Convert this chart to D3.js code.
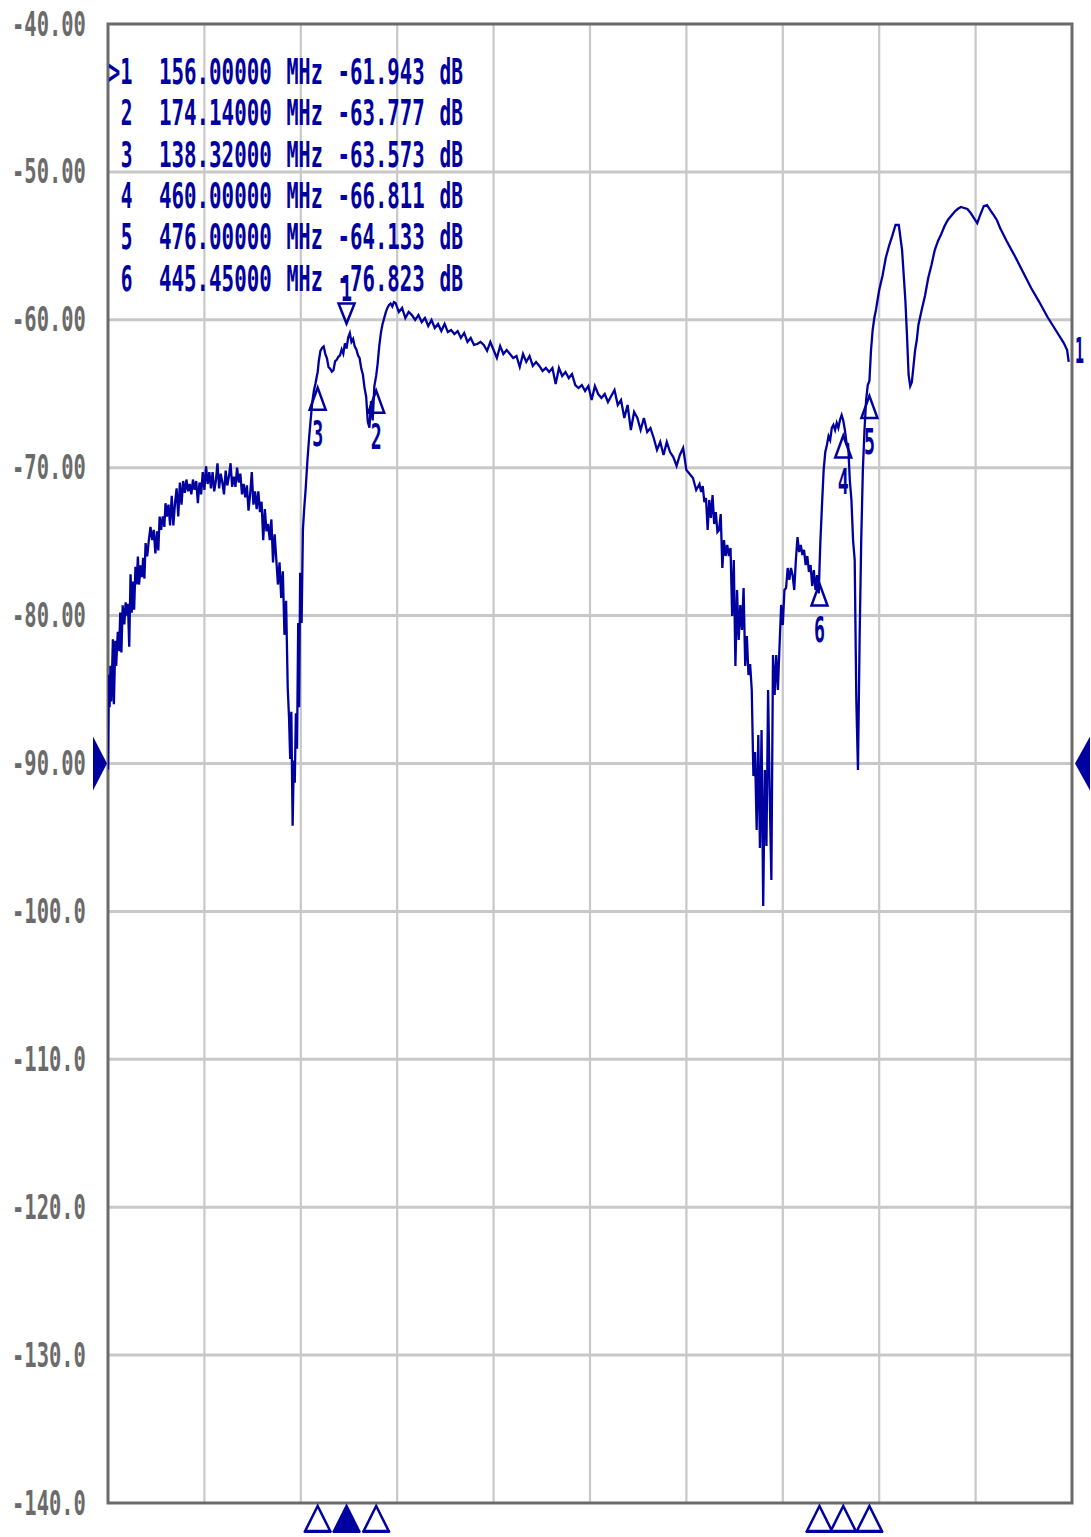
<!DOCTYPE html>
<html><head><meta charset="utf-8">
<script src="https://cdn.jsdelivr.net/npm/d3@7"></script>
<style>body{margin:0;background:#fff}svg{display:block}</style>
</head><body>
<svg id="c" width="1091" height="1537"></svg>
<script>
// ---------- data ----------
const freqStart = 10, freqStop = 600;          // MHz, sweep span
const xDivisions = 10;
const yTickValues = [-40,-50,-60,-70,-80,-90,-100,-110,-120,-130,-140];
const yTickLabels = ["-40.00","-50.00","-60.00","-70.00","-80.00","-90.00","-100.0","-110.0","-120.0","-130.0","-140.0"];
const referenceLevel = -90;
const activeMarker = 1;
const markerIds    = [1, 2, 3, 4, 5, 6];
const markerFreqs  = [156.0, 174.14, 138.32, 460.0, 476.0, 445.45];
const markerValues = [-61.943, -63.777, -63.573, -66.811, -64.133, -76.823];
const traceNumber = "1";

// trace: [frequency MHz, dB]
const trace = [
[10,-90.4],[10.5,-84.0],[11,-86.2],[11.5,-83.4],[12,-85.8],[13,-81.6],[13.6,-86.0],[14.5,-81.7],[15,-83.4],[16,-81.1],[16.8,-82.4],[17.5,-79.8],[18.2,-82.5],[19,-79.3],[20,-80.6],[20.8,-79.1],[21.5,-80.0],[22.2,-79.2],[23,-82.1],[23.8,-77.2],[24.5,-79.8],[25.2,-77.7],[26,-79.6],[26.8,-76.7],[27.5,-77.9],[28.3,-76.0],[29,-77.9],[30,-76.6],[30.8,-77.4],[31.5,-76.1],[32.3,-77.5],[33,-75.1],[34,-76.0],[35,-74.9],[36,-74.0],[37,-74.9],[38,-74.2],[39,-75.8],[40,-74.3],[40.8,-75.6],[41.6,-73.3],[42.5,-74.2],[43.5,-73.3],[44.5,-74.0],[45.2,-72.4],[46,-73.3],[47,-72.5],[48,-73.9],[49,-71.9],[50,-73.9],[51,-72.4],[52,-71.4],[53,-73.3],[54,-71.0],[55,-72.5],[56,-70.9],[57,-71.7],[58,-70.8],[59,-71.6],[60,-71.1],[61,-71.8],[62,-70.8],[63,-71.5],[64,-70.9],[65,-72.4],[66,-71.0],[67,-71.8],[68,-70.3],[69,-71.5],[70,-69.9],[71,-71.1],[72,-70.3],[73,-71.4],[74,-70.3],[75,-71.6],[76,-70.9],[77,-69.7],[78,-71.4],[79,-70.4],[80,-71.0],[81,-71.8],[82,-70.2],[83,-71.2],[84,-70.6],[85,-69.7],[86,-71.3],[87,-70.6],[88,-71.3],[89,-70.0],[90,-71.0],[91,-70.4],[92,-71.8],[93,-71.1],[94,-72.0],[95,-71.2],[96,-72.9],[97,-71.8],[98,-70.3],[99,-72.5],[100,-71.6],[101,-72.8],[102,-71.6],[103,-73.0],[104,-72.3],[105,-74.9],[106,-72.8],[107,-74.3],[108,-73.8],[109,-74.9],[110,-73.5],[111,-76.4],[112,-74.5],[113,-76.2],[114,-77.9],[115,-76.4],[116,-78.8],[117,-77.0],[118,-81.3],[119,-79.0],[120,-84.9],[120.8,-86.9],[121.5,-89.7],[122.2,-86.5],[123,-94.2],[123.7,-89.8],[124.3,-91.3],[125,-86.6],[125.7,-89.0],[126.4,-80.5],[127,-86.2],[127.6,-77.1],[128.5,-80.5],[129.3,-74.2],[130,-72.9],[131,-71.4],[132,-69.6],[133,-68.1],[134,-66.8],[135,-65.6],[136,-64.8],[137,-64.3],[138,-63.7],[138.32,-63.57],[139,-62.8],[140,-62.1],[141,-61.9],[142,-61.8],[143,-62.3],[144,-62.6],[145,-63.2],[146,-63.3],[147,-63.5],[148,-63.4],[149,-62.8],[150,-62.7],[151,-62.5],[152,-62.4],[153,-62.0],[154,-62.3],[155,-61.6],[156,-61.94],[157,-61.2],[158,-60.9],[159,-61.5],[160,-61.3],[161,-61.8],[162,-62.0],[163,-62.4],[164,-62.6],[165,-63.3],[166,-63.7],[167,-64.6],[168,-65.2],[169,-66.9],[170,-67.3],[171,-65.5],[172,-66.8],[173,-64.5],[174.14,-63.78],[175,-63.0],[176,-61.8],[177,-60.9],[178,-60.3],[179,-59.9],[180,-59.5],[181,-59.2],[182,-59.0],[183,-58.9],[184,-59.1],[185,-58.8],[186,-58.86],
[188,-59.47],[190,-59.2],[192,-59.88],[194,-59.47],[196,-59.68],[198,-60.01],[200,-59.68],[202,-60.15],[204,-59.88],[206,-60.42],[208,-60.01],[210,-60.55],[212,-60.28],[214,-60.76],[216,-60.28],[218,-60.83],[220,-60.69],[222,-60.96],[224,-60.76],[226,-61.23],[228,-60.89],[230,-61.5],[232,-61.23],[234,-61.7],[236,-61.64],[238,-61.5],[240,-61.7],[242,-62.1],[244,-61.5],[246,-62.04],[248,-62.58],[250,-61.77],[252,-62.31],[254,-62.04],[256,-62.31],[258,-62.58],[260,-62.45],[262,-63.19],[264,-62.31],[266,-62.85],[268,-62.45],[270,-63.12],[272,-62.85],[274,-63.12],[276,-63.46],[278,-63.26],[280,-63.53],[282,-63.26],[284,-64.34],[286,-63.26],[288,-63.8],[290,-63.53],[292,-63.94],[294,-63.67],[296,-64.41],[298,-64.61],[300,-64.41],[302,-64.81],[304,-64.48],[306,-65.42],[308,-64.48],[310,-65.02],[312,-65.29],[314,-65.02],[316,-65.56],[318,-65.15],[320,-64.75],[322,-65.76],[324,-65.42],[326,-66.64],[328,-65.76],[330,-67.45],[332,-66.23],[334,-66.64],[336,-67.45],[338,-66.64],[340,-67.59],[342,-67.32],[344,-67.99],[346,-68.8],[348,-68.26],[350,-69.14],[352,-68.26],[354,-68.94],[356,-69.28],[358,-69.88],[360,-69.14],[362,-68.67],[364,-70.16],[366,-70.43],[368,-70.7],[370,-71.51],
[372,-71.1],[373,-71.64],[374,-71.24],[375,-72.32],[376,-72.05],[377,-74.21],[378,-72.18],[379,-73.4],[380,-71.85],[381,-73.81],[382,-73.0],[383,-74.35],[384,-74.21],[385,-73.13],[386,-76.78],[387,-74.89],[388,-75.97],[389,-75.22],[390,-75.97],[391,-75.43],[392,-80.03],[393,-76.24],[394,-83.41],[395,-78.27],[396,-81.65],[397,-79.28],[398,-80.97],[399,-78.13],[400,-83.41],[401,-81.38],[402,-84.02],[403,-83.27],[404,-85.03],[405,-90.85],[406,-89.22],[407,-94.5],[408,-88.07],[409,-95.71],[410,-87.73],[411,-99.64],[412,-90.44],[413,-95.58],[414,-85.03],[415,-92.13],[416,-97.88],[417,-82.66],[418,-85.37],[419,-82.66],[420,-85.03],[421,-82.06],[422,-79.28],[423,-80.64],[424,-78.27],[425,-78.13],[426,-76.78],[427,-77.59],[428,-76.78],[429,-77.26],[430,-78.27],[431,-76.24],[432,-74.69],[433,-75.7],[434,-75.22],[435,-75.9],[436,-75.56],[437,-76.58],[438,-75.97],[439,-77.05],[440,-76.58],[441,-78.0],[442,-76.92],[443,-78.27],[444,-77.26],[445,-78.5],[445.45,-76.82],[446,-75.0],[447,-72.5],[448,-70.16],[449,-68.94],[450,-68.47],[451,-67.86],[452,-68.13],[453,-67.31],[454,-67.11],[455,-67.45],[456,-66.98],[457,-67.31],[458,-66.77],[459,-66.44],[460,-66.81],[461,-67.45],[462,-68.33],[463,-68.4],[464,-70.83],[465,-72.18],[466,-74.89],[467,-76.24],[468,-85.7],[469,-90.44],[470,-81.65],[471,-74.89],[472,-70.16],[473,-67.45],[474,-65.42],[475,-64.41],[476,-64.13],[477,-62.04],[478,-60.69],[479,-59.88],[480,-59.34],
[482,-57.99],[484,-57.04],[486,-55.82],[488,-55.01],[490,-54.33],[492,-53.59],[494,-53.59],[496,-55.28],[497,-56.97],[498,-58.66],[499,-61.03],[500,-63.73],[501,-64.48],[502,-64.21],[503,-63.12],[504,-62.04],[505,-61.37],[506,-60.35],[508,-59.34],[510,-58.39],[512,-57.17],[514,-56.29],[516,-55.28],[518,-54.67],[520,-54.2],[522,-53.66],[524,-53.25],[526,-52.98],[528,-52.71],[530,-52.51],[532,-52.37],[534,-52.44],[536,-52.51],[538,-52.78],[540,-53.12],[542,-53.46],[544,-52.85],[546,-52.31],[548,-52.24],[550,-52.58],[552,-52.91],[554,-53.25],[556,-53.79],[560,-54.67],[565,-55.69],[570,-56.77],[575,-57.85],[580,-58.8],[585,-59.81],[590,-60.69],[595,-61.57],[597,-62.04],[598,-62.85]
];

// ---------- drawing ----------
const BLUE = "#0000a0", FRAME = "#6b6b6b", GRID = "#c8c8c8", LABEL = "#6b6b6b";
const FONT = "'DejaVu Sans Mono', monospace";
const plot = {left:108, right:1072, top:24, bottom:1503};
const svg = d3.select("#c");

const x = d3.scaleLinear().domain([freqStart, freqStop]).range([plot.left, plot.right]);
const y = d3.scaleLinear().domain([yTickValues[0], yTickValues[yTickValues.length-1]]).range([plot.top, plot.bottom]);
const gridFreqs = d3.range(xDivisions + 1).map(i => freqStart + i * (freqStop - freqStart) / xDivisions);

// grid
svg.append("g").selectAll("line").data(gridFreqs.slice(1, -1)).join("line")
  .attr("x1", d => x(d)).attr("x2", d => x(d)).attr("y1", plot.top).attr("y2", plot.bottom)
  .attr("stroke", GRID).attr("stroke-width", 2.2);
svg.append("g").selectAll("line").data(yTickValues.slice(1, -1)).join("line")
  .attr("x1", plot.left).attr("x2", plot.right).attr("y1", d => y(d)).attr("y2", d => y(d))
  .attr("stroke", GRID).attr("stroke-width", 3);

// frame
svg.append("rect").attr("x", plot.left).attr("y", plot.top)
  .attr("width", plot.right - plot.left).attr("height", plot.bottom - plot.top)
  .attr("fill", "none").attr("stroke", FRAME).attr("stroke-width", 3);

// condensed text helper: draws s with its left edge at tx (or right edge if anchorEnd), squeezed to width w
function txt(parent, s, tx, ty, w, opts) {
  opts = opts || {};
  const g = parent.append("g");
  const t = g.append("text").text(s).attr("x", 0).attr("y", 0)
    .attr("text-anchor", "start")
    .attr("font-family", FONT).attr("font-size", opts.size || 36)
    .attr("font-weight", "bold").attr("fill", opts.fill || BLUE);
  const nat = t.node().getComputedTextLength() || 1;
  const sx = w / nat;
  const left = opts.anchorEnd ? tx - w : tx;
  g.attr("transform", `translate(${left},${ty}) scale(${sx},1)`);
  return g;
}

// y axis labels (positions from the axis generator)
const yAxis = d3.axisLeft(y).tickValues(yTickValues).tickFormat((d, i) => yTickLabels[i]).tickSize(0).tickPadding(0);
const gA = svg.append("g").attr("transform", "translate(86,0)").call(yAxis);
gA.select(".domain").remove();
gA.attr("text-anchor", null);
gA.selectAll(".tick").each(function(d, i) {
  const tick = d3.select(this);
  tick.select("text").remove();
  txt(tick, yTickLabels[i], 0, 11, 74, {anchorEnd: true, size: 34, fill: LABEL});
});

// trace
svg.append("clipPath").attr("id", "clip").append("rect")
  .attr("x", plot.left).attr("y", plot.top).attr("width", plot.right - plot.left).attr("height", plot.bottom - plot.top);
const line = d3.line().x(d => x(d[0])).y(d => y(d[1]));
svg.append("path").datum(trace).attr("d", line).attr("clip-path", "url(#clip)")
  .attr("fill", "none").attr("stroke", BLUE).attr("stroke-width", 2.3).attr("stroke-linejoin", "miter");

// marker table
const charW = 12.75, rowY0 = 84, rowStep = 41.3;
const fmtF = d3.format(".5f"), fmtV = d3.format(".3f");
markerIds.forEach((id, i) => {
  const by = rowY0 + i * rowStep;
  const idText = (id === activeMarker ? ">" : "") + id;
  txt(svg, idText, plot.left + (2 - idText.length) * charW, by, idText.length * charW - 1);
  const fs = fmtF(markerFreqs[i]);
  txt(svg, fs, plot.left + (13 - fs.length) * charW, by, fs.length * charW - 2);
  txt(svg, "MHz", plot.left + 14 * charW, by, 3 * charW - 2);
  const vs = fmtV(markerValues[i]).replace("\u2212", "-");
  txt(svg, vs, plot.left + (25 - vs.length) * charW, by, vs.length * charW - 2);
  txt(svg, "dB", plot.left + 26 * charW, by, 2 * charW - 2);
});

// markers on trace
markerIds.forEach((id, i) => {
  const mx = x(markerFreqs[i]), my = y(markerValues[i]);
  if (id === activeMarker) {
    svg.append("path").attr("d", `M${mx-8},${my-45}L${mx+8},${my-45}L${mx},${my-25}Z`)
      .attr("fill", "none").attr("stroke", BLUE).attr("stroke-width", 2.5);
    txt(svg, String(id), mx - 5.5, my - 48, 11);
  } else {
    svg.append("path").attr("d", `M${mx},${my+15}L${mx+8},${my+37}L${mx-8},${my+37}Z`)
      .attr("fill", "none").attr("stroke", BLUE).attr("stroke-width", 2.5);
    txt(svg, String(id), mx - 5.5, my + 73, 11);
  }
  // bottom indicators
  svg.append("path").attr("d", `M${mx},${plot.bottom+3}L${mx+12.5},${plot.bottom+28}L${mx-12.5},${plot.bottom+28}Z`)
    .attr("fill", id === activeMarker ? BLUE : "#fff").attr("stroke", BLUE).attr("stroke-width", 2.5);
  svg.append("line").attr("x1", mx - 13.5).attr("x2", mx + 13.5).attr("y1", plot.bottom + 28.5).attr("y2", plot.bottom + 28.5)
    .attr("stroke", BLUE).attr("stroke-width", 3);
});

// reference level indicators
const ry = y(referenceLevel);
svg.append("path").attr("d", `M93,${ry-27}L107,${ry}L93,${ry+27}Z`).attr("fill", BLUE);
svg.append("path").attr("d", `M1090,${ry-27}L1075,${ry}L1090,${ry+27}Z`).attr("fill", BLUE);

// trace number at right end
const last = trace[trace.length - 1];
txt(svg, traceNumber, plot.right + 3, y(last[1]) + 1, 9);
</script>
</body></html>
